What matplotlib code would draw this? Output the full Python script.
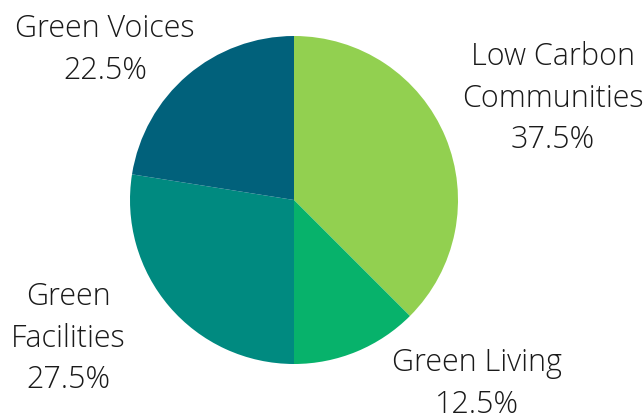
import matplotlib.pyplot as plt

# Programme split
labels = ["Low Carbon\nCommunities", "Green Living", "Green\nFacilities", "Green Voices"]
shares = [37.5, 12.5, 27.5, 22.5]
colors = ["#92D050", "#07B26B", "#008A80", "#01617B"]

plt.rcParams['font.family'] = ['Open Sans', 'DejaVu Sans']

W, H = 644, 415
fig = plt.figure(figsize=(W / 100, H / 100), dpi=100)
ax = fig.add_axes([0, 0, 1, 1])

cx, cy, r = 294, H - 200, 164
ax.pie(shares, colors=colors, startangle=90, counterclock=False,
       center=(cx, cy), radius=r, frame=True,
       wedgeprops=dict(linewidth=0))
ax.set_xlim(0, W)
ax.set_ylim(0, H)
ax.set_aspect('equal')
ax.axis('off')

# label blocks (x centre, y of top line)
spots = [(553, H - 41), (477, H - 347), (68, H - 281), (105, H - 13)]
for lab, val, (x, y) in zip(labels, shares, spots):
    ax.text(x, y, f"{lab}\n{val}%", ha='center', va='top', ma='center',
            fontsize=22, fontweight='light', color='#1a1a1a', linespacing=1.4)

fig.savefig("out.png", dpi=100)
